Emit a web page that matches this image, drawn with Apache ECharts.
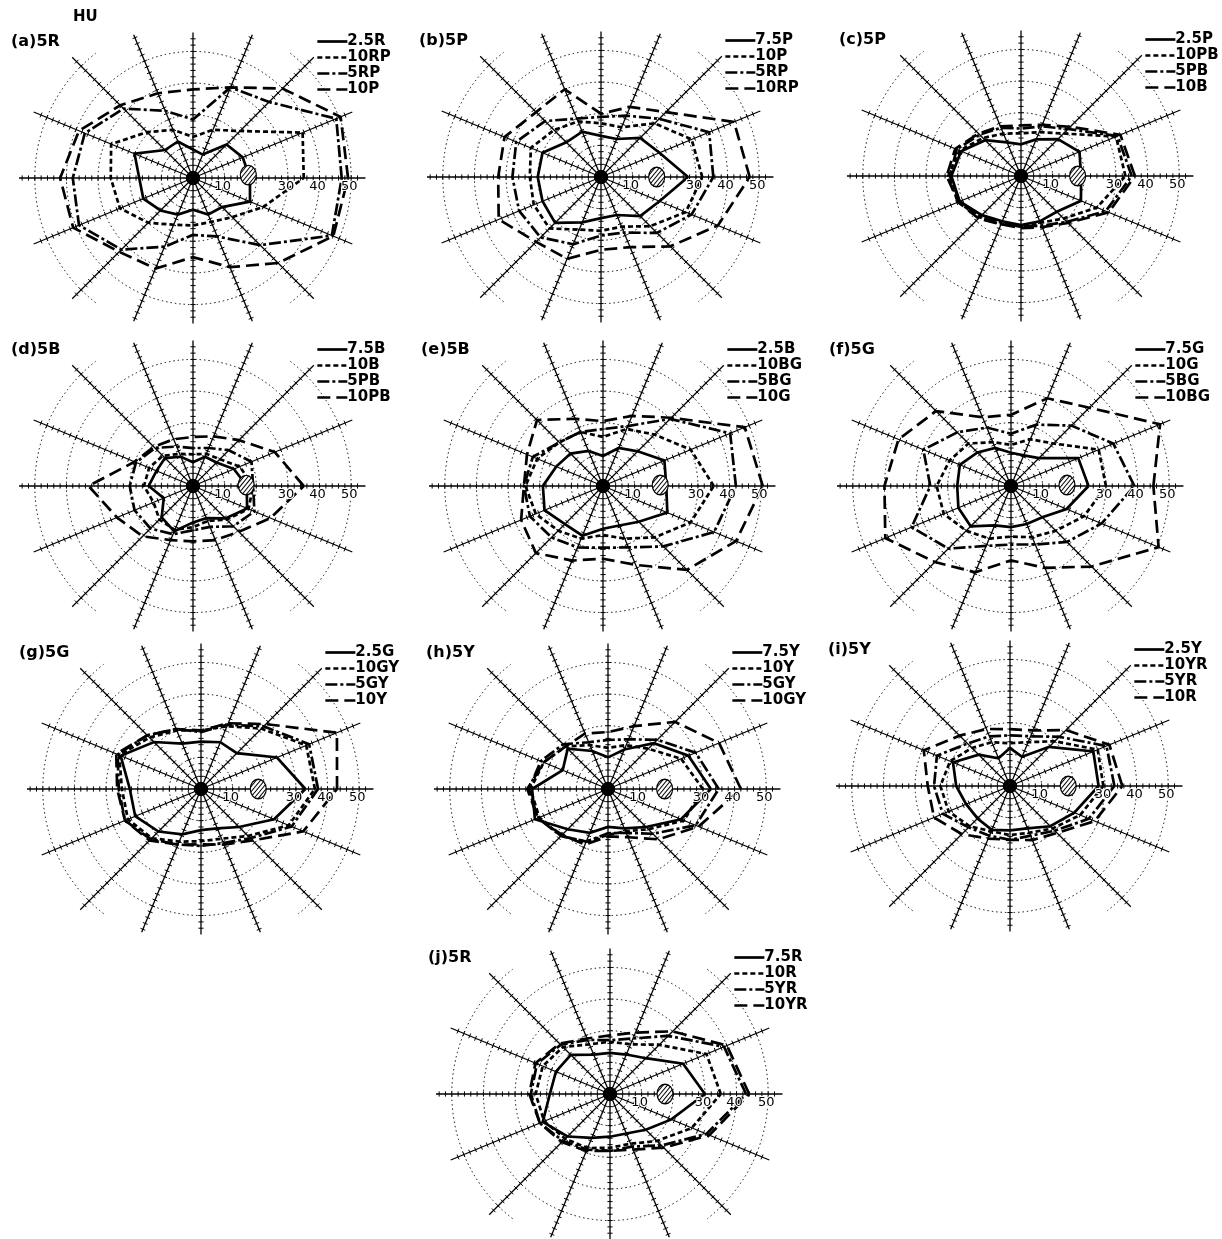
<!DOCTYPE html>
<html>
<head>
<meta charset="utf-8">
<script src="https://cdn.jsdelivr.net/npm/echarts@6/dist/echarts.min.js"></script>
<style>
  html, body { margin: 0; padding: 0; background: #fff; }
  #chart { width: 1222px; height: 1239px; }
</style>
</head>
<body>
<div id="chart"></div>
<script>
// Sixteen viewing directions, degrees counter-clockwise from the right.
const directions = [0, 22.5, 45, 67.5, 90, 112.5, 135, 157.5, 180, 202.5, 225, 247.5, 270, 292.5, 315, 337.5];
const spokeLength = [54.5, 54.5, 54, 49, 46, 49, 54, 54.5, 55, 54.5, 54, 49, 46, 49, 54, 54.5];
const ringRadii = [10, 20, 30, 40, 50];
const scaleLabels = [10, 30, 40, 50];

const panelTitles = ['(a)5R', '(b)5P', '(c)5P', '(d)5B', '(e)5B', '(f)5G', '(g)5G', '(h)5Y', '(i)5Y', '(j)5R'];

// Legend entries per panel: solid, dotted, dash-dot, dashed.
const namesA = ['2.5R', '10RP', '5RP', '10P'];
const namesB = ['7.5P', '10P', '5RP', '10RP'];
const namesC = ['2.5P', '10PB', '5PB', '10B'];
const namesD = ['7.5B', '10B', '5PB', '10PB'];
const namesE = ['2.5B', '10BG', '5BG', '10G'];
const namesF = ['7.5G', '10G', '5BG', '10BG'];
const namesG = ['2.5G', '10GY', '5GY', '10Y'];
const namesH = ['7.5Y', '10Y', '5GY', '10GY'];
const namesI = ['2.5Y', '10YR', '5YR', '10R'];
const namesJ = ['7.5R', '10R', '5YR', '10YR'];

// Radial values (HU) in the order of `directions`.
const aSolid   = [18, 17, 15, 8, 9, 12.5, 12.5, 20, 17, 17, 14.5, 12.5, 10, 12.5, 13, 19.5];
const aDotted  = [35, 37.5, 21, 16.5, 13, 16.5, 20.5, 28, 26, 25, 20, 16, 15, 15, 17.5, 24];
const aDashDot = [47, 49, 34, 31, 18.5, 23, 31, 37, 38, 39, 32, 23.5, 18, 20, 30, 47.5];
const aDashed  = [49, 50.5, 40, 31, 28, 29, 32.5, 39, 42, 41, 33, 31, 25, 30.5, 38, 48];

const bSolid   = [27.5, 20, 17.5, 13, 13, 15.5, 15.5, 20, 20, 20, 20.5, 15.5, 13, 13, 17.5, 20];
const bDotted  = [32, 31, 24, 17, 17, 19, 21, 24, 22.5, 23, 23, 18, 17, 17, 22, 29];
const bDashDot = [35.5, 37, 26, 21, 19, 20, 25, 29, 28, 28, 27, 23, 18.5, 19, 25, 31];
const bDashed  = [47, 45.5, 29, 24, 20, 30, 29, 33, 32.5, 35, 29, 28, 23, 24, 31, 40];

const cSolid   = [19, 20, 16.5, 12.5, 10, 11.5, 16, 20.5, 22, 21, 17.5, 15.5, 15.5, 15.5, 16, 20.5];
const cDotted  = [33, 32.5, 19, 15, 13.5, 14.5, 17, 21, 23, 21.5, 18.5, 16.5, 16, 16, 19, 26];
const cDashDot = [35, 33, 21, 17, 15, 16.5, 18.5, 22, 22.5, 21, 18, 16, 16, 17, 20.5, 29];
const cDashed  = [36, 34, 22, 17.5, 16, 17, 19, 22.5, 23.5, 21.5, 19, 16.5, 16.5, 17.5, 21, 30];

const dSolid   = [17, 14, 10.5, 10, 7.5, 10, 12.5, 12.5, 14, 10, 14, 15.5, 11.5, 11, 14.5, 18.5];
const dDotted  = [19, 16, 12, 11, 10, 11, 13.5, 15, 15.5, 13.5, 15, 15, 13, 12, 15, 19];
const dDashDot = [19, 20, 16, 13, 12, 13.5, 17, 19.5, 20, 20, 19, 16.5, 14, 14, 18, 21];
const dDashed  = [35, 28, 20.5, 17, 15.5, 16, 17.5, 20, 33, 26, 22.5, 18.5, 17.5, 18.5, 20.5, 26.5];

const eSolid   = [20, 21, 15.5, 13, 9.5, 12, 14.5, 16, 19, 20, 17, 17, 13.5, 13.5, 16, 22];
const eDotted  = [35, 30, 23, 19.5, 15.5, 18.5, 19.5, 22.5, 24.5, 23, 20, 18, 15.5, 18, 23, 30];
const eDashDot = [42, 43.5, 30, 20.5, 18, 18.5, 19.5, 24, 25, 25, 23, 21, 19.5, 21, 27, 38];
const eDashed  = [50.5, 48.5, 30.5, 24, 20.5, 23, 29.5, 26, 25, 28, 30, 25.5, 23, 27, 37.5, 45.5];

const fSolid   = [24.5, 23, 12.5, 10.5, 10.5, 13, 15, 17.5, 17, 18, 18, 13.5, 13, 13, 14, 19];
const fDotted  = [30, 30, 19, 16, 13, 15, 19, 21, 23.5, 23, 20, 18, 16, 17.5, 20, 25];
const fDashDot = [39, 35, 27, 21, 16.5, 20, 24, 30, 25.5, 34, 28, 20.5, 18.5, 20, 25, 31];
const fDashed  = [45, 51, 35, 30, 22.5, 23.5, 33.5, 38.5, 40, 43, 34, 29.5, 23.5, 28, 36, 50.5];

const gSolid   = [33, 26, 16, 16, 15, 15.5, 21, 27.5, 22.5, 22.5, 19, 15.5, 13, 13.5, 17, 25];
const gDotted  = [36, 36, 27, 21.5, 18.5, 20, 23, 28, 25, 25, 22, 18, 16.5, 17, 21, 30];
const gDashDot = [37, 37, 28, 22, 18, 20.5, 24, 28.5, 26, 26, 22.5, 19, 18, 18.5, 22, 31];
const gDashed  = [43, 46.5, 29, 22.5, 18.5, 20.5, 24, 29, 26.5, 26, 23, 19, 17.5, 19, 23, 35];

const hSolid   = [32.5, 27.5, 20.5, 13.5, 10, 13, 18, 15.5, 24, 25, 18, 15, 12, 13.5, 17, 25];
const hDotted  = [30, 25, 18, 15, 13, 15, 19, 22, 24.5, 23.5, 21, 18, 14.5, 14.5, 18, 26];
const hDashDot = [35, 30, 22, 17, 15.5, 16, 20, 23, 25, 24, 21, 18, 14, 15, 20, 30];
const hDashed  = [42, 38, 30, 21.5, 18, 19, 19, 22, 25.5, 24, 20.5, 19, 15, 16.5, 22.5, 31];

const iSolid   = [28, 28.5, 17.5, 10, 12, 9.5, 14, 19.5, 17, 15, 14.5, 15, 14, 14.5, 18, 22];
const iDotted  = [29.5, 30, 20, 15, 13.5, 15, 17, 20.5, 22, 21, 18, 15.5, 15.5, 16, 19, 24];
const iDashDot = [33, 33, 22, 17, 16, 17, 19, 25, 24, 23, 18.5, 17, 17, 17, 20, 27];
const iDashed  = [35.5, 34, 25, 19, 18, 19.5, 22.5, 29.5, 26, 26, 21.5, 18, 17, 18.5, 21, 29];

const jSolid   = [30, 25, 16, 13.5, 13, 13.5, 17.5, 18.5, 19, 23, 19, 15, 13.5, 13.5, 16, 21];
const jDotted  = [35, 33, 22, 17, 16.5, 17, 21, 23, 23.5, 22.5, 20, 18.5, 17, 17, 21, 28];
const jDashDot = [43, 39, 26, 19, 17, 18.5, 22, 25, 25, 24, 21, 19, 18, 18, 23, 33];
const jDashed  = [44, 40, 28, 21, 18.5, 19, 22.5, 25.5, 25.5, 24, 21.5, 19.5, 18, 19, 24, 34];

// Position of the hatched reference patch (radius, angle) per panel.
const patchRadius = [17.5, 17.6, 17.9, 16.8, 18.1, 17.7, 18.1, 17.9, 18.4, 17.4];
const patchAngle = [3, 0, 0, 1, 1, 1, 0, 0, 0, 0];

// ---- layout & styling ----
const PX_PER_UNIT = 3.164;
const AXIS_MAX = 55;
const centers = [
  [193, 178], [601, 177], [1021, 176],
  [193, 486], [603, 486], [1011, 486],
  [201, 789], [608, 789], [1010, 786],
  [610, 1094]
];
const panelKeys = ['a', 'b', 'c', 'd', 'e', 'f', 'g', 'h', 'i', 'j'];
const panelNames = [namesA, namesB, namesC, namesD, namesE, namesF, namesG, namesH, namesI, namesJ];
const panelValues = [
  [aSolid, aDotted, aDashDot, aDashed],
  [bSolid, bDotted, bDashDot, bDashed],
  [cSolid, cDotted, cDashDot, cDashed],
  [dSolid, dDotted, dDashDot, dDashed],
  [eSolid, eDotted, eDashDot, eDashed],
  [fSolid, fDotted, fDashDot, fDashed],
  [gSolid, gDotted, gDashDot, gDashed],
  [hSolid, hDotted, hDashDot, hDashed],
  [iSolid, iDotted, iDashDot, iDashed],
  [jSolid, jDotted, jDashDot, jDashed]
];
const dashStyles = ['solid', [5, 3], [12, 3, 3, 3], [13, 6]];
const FONT = 'DejaVu Sans';

function closedPolygon(values) {
  const pts = directions.map((ang, k) => [values[k], ang]);
  pts.push([values[0], 360]);
  return pts;
}

// Spokes with cross ticks every 2 units.
function renderSpoke(params, api) {
  const len = api.value(0);
  const ang = api.value(1);
  const c = api.coord([0, ang]);
  const tip = api.coord([len, ang]);
  const dx = tip[0] - c[0], dy = tip[1] - c[1];
  const L = Math.hypot(dx, dy) || 1;
  const nx = -dy / L, ny = dx / L;
  const children = [{
    type: 'line',
    shape: { x1: c[0], y1: c[1], x2: tip[0], y2: tip[1] },
    style: { stroke: '#000', lineWidth: 1.3 }
  }];
  for (let r = 2; r < len - 0.5; r += 2) {
    const p = api.coord([r, ang]);
    children.push({
      type: 'line',
      shape: { x1: p[0] + nx * 2.6, y1: p[1] + ny * 2.6, x2: p[0] - nx * 2.6, y2: p[1] - ny * 2.6 },
      style: { stroke: '#000', lineWidth: 1 }
    });
  }
  return { type: 'group', children };
}

// Dotted reference rings; the outermost one is only drawn at the sides.
function renderRing(params, api) {
  const r = api.value(0);
  const c = api.coord([0, 0]);
  const p = api.coord([r, 0]);
  const R = Math.abs(p[0] - c[0]);
  const style = { stroke: '#000', lineWidth: 1, lineDash: [1.4, 3], fill: null };
  const arcs = [];
  if (r >= 50) {
    const lim = 52 * Math.PI / 180;
    arcs.push([-lim, lim], [Math.PI - lim, Math.PI + lim]);
  } else {
    arcs.push([0, Math.PI * 2]);
  }
  return {
    type: 'group',
    children: arcs.map(a => ({
      type: 'arc',
      shape: { cx: c[0], cy: c[1], r: R, startAngle: a[0], endAngle: a[1] },
      style
    }))
  };
}

function renderScaleLabel(params, api) {
  const p = api.coord([api.value(0), 0]);
  return {
    type: 'text',
    x: p[0] - 2, y: p[1] + 2,
    style: {
      text: String(api.value(0)),
      font: '13px "' + FONT + '"',
      fill: '#000',
      align: 'center',
      verticalAlign: 'top',
      stroke: '#fff', lineWidth: 2
    }
  };
}

// Hatched patch plus the solid hub at the centre.
function renderPatch(params, api) {
  if (api.value(2) === 1) {
    const c = api.coord([0, 0]);
    return { type: 'circle', shape: { cx: c[0], cy: c[1], r: 6.5 }, style: { fill: '#000' } };
  }
  const p = api.coord([api.value(0), api.value(1)]);
  const R = 8;
  const children = [{ type: 'circle', shape: { cx: 0, cy: 0, r: R }, style: { fill: '#fff', stroke: '#000', lineWidth: 1.1 } }];
  const step = 3 * Math.SQRT2;
  for (let k = -R * Math.SQRT2 + step / 2; k < R * Math.SQRT2; k += step) {
    const disc = 2 * R * R - k * k;
    if (disc <= 0) continue;
    const s = Math.sqrt(disc);
    const x1 = (k - s) / 2, x2 = (k + s) / 2;
    children.push({ type: 'line', shape: { x1, y1: k - x1, x2, y2: k - x2 }, style: { stroke: '#000', lineWidth: 0.9 } });
  }
  return { type: 'group', x: p[0], y: p[1], scaleY: 1.22, children };
}

const polar = [], radiusAxis = [], angleAxis = [], series = [], legend = [];
const title = [{
  text: 'HU', left: 73, top: 10, padding: 0,
  textStyle: { fontFamily: FONT, fontWeight: 'bold', fontSize: 15, color: '#000' }
}];

centers.forEach((ctr, i) => {
  const key = panelKeys[i];
  polar.push({ center: [ctr[0], ctr[1]], radius: AXIS_MAX * PX_PER_UNIT });
  radiusAxis.push({
    polarIndex: i, type: 'value', min: 0, max: AXIS_MAX,
    axisLine: { show: false }, axisTick: { show: false }, axisLabel: { show: false }, splitLine: { show: false }
  });
  angleAxis.push({
    polarIndex: i, type: 'value', min: 0, max: 360, startAngle: 0, clockwise: false,
    axisLine: { show: false }, axisTick: { show: false }, axisLabel: { show: false }, splitLine: { show: false }
  });

  series.push({
    type: 'custom', coordinateSystem: 'polar', polarIndex: i, silent: true, z: 1,
    data: ringRadii.map(r => [r, 0]), renderItem: renderRing
  });
  series.push({
    type: 'custom', coordinateSystem: 'polar', polarIndex: i, silent: true, z: 2,
    data: directions.map((ang, k) => [spokeLength[k], ang]), renderItem: renderSpoke
  });

  const names = panelNames[i];
  panelValues[i].forEach((vals, s) => {
    series.push({
      type: 'line', name: key + '|' + names[s], coordinateSystem: 'polar', polarIndex: i,
      symbol: 'none', z: 3,
      data: closedPolygon(vals),
      lineStyle: { color: '#000', width: 2.7, type: dashStyles[s], cap: 'butt', join: 'miter' },
      itemStyle: { color: '#000' }
    });
  });

  series.push({
    type: 'custom', coordinateSystem: 'polar', polarIndex: i, silent: true, z: 5,
    data: [[patchRadius[i], patchAngle[i], 0], [0, 0, 1]], renderItem: renderPatch
  });
  series.push({
    type: 'custom', coordinateSystem: 'polar', polarIndex: i, silent: true, z: 6,
    data: scaleLabels.map(v => [v, 0]), renderItem: renderScaleLabel
  });

  title.push({
    text: panelTitles[i], left: ctr[0] - 182, top: ctr[1] - 144, padding: 0,
    textStyle: { fontFamily: FONT, fontWeight: 'bold', fontSize: 16, color: '#000' }
  });
  legend.push({
    data: names.map(n => key + '|' + n),
    formatter: n => n.split('|')[1],
    orient: 'vertical', left: ctr[0] + 123, top: ctr[1] - 144,
    itemWidth: 30, itemHeight: 10, itemGap: 1, padding: 0, selectedMode: false,
    itemStyle: { color: 'rgba(0,0,0,0)', borderWidth: 0, opacity: 0 },
    lineStyle: { width: 2.7 },
    textStyle: { fontFamily: FONT, fontWeight: 'bold', fontSize: 15, lineHeight: 13.5, color: '#000', padding: [0, 0, 0, -5] }
  });
});

const chart = echarts.init(document.getElementById('chart'), null, { renderer: 'canvas' });
chart.setOption({
  animation: false,
  backgroundColor: '#fff',
  title, legend, polar, radiusAxis, angleAxis, series
});
</script>
</body>
</html>
